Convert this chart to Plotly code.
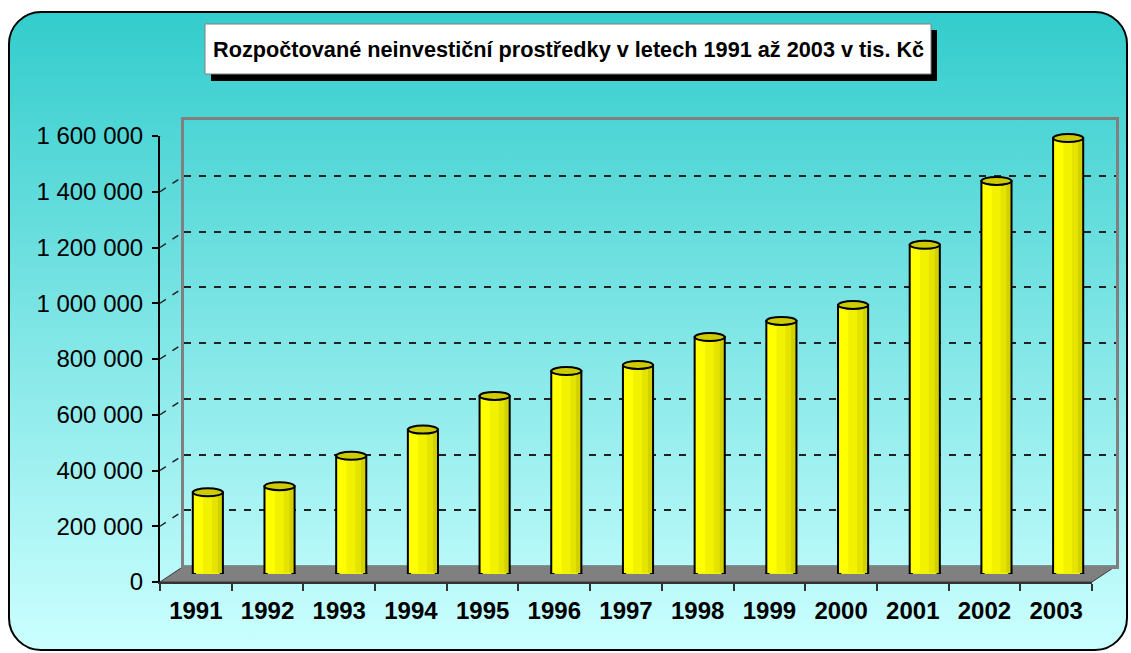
import base64
import plotly.graph_objects as go

# ---------------- data ----------------
years = ["1991", "1992", "1993", "1994", "1995", "1996", "1997",
         "1998", "1999", "2000", "2001", "2002", "2003"]
values = [293000, 315000, 424000, 518000, 639000, 728000, 750000,
          850000, 908000, 965000, 1181000, 1410000, 1564000]
ytick_vals = [0, 200000, 400000, 600000, 800000, 1000000, 1200000, 1400000, 1600000]
ytick_text = ["0", "200 000", "400 000", "600 000", "800 000", "1 000 000",
              "1 200 000", "1 400 000", "1 600 000"]
grid_vals = [200000, 400000, 600000, 800000, 1000000, 1200000, 1400000]
title_text = "Rozpočtované neinvestiční prostředky v letech 1991 až 2003 v tis. Kč"

# ---------------- geometry / style ----------------
W, H = 1131, 653
FX0, FX1 = 160, 1092      # front x-axis pixel extent
FY0, FY1 = 582, 136       # front y-axis pixel extent (bottom, top)
DX, DY = 24, 16           # depth offset of back wall
YMAX = 1600000
FONT = "Liberation Sans, Arial, sans-serif"
BAR_W = 0.42


def px(x):
    return x / W


def py(y):
    return 1 - y / H


val_per_px = YMAX / (FY0 - FY1)

# background rounded panel with vertical gradient
svg = f'''<svg xmlns="http://www.w3.org/2000/svg" width="{W}" height="{H}" viewBox="0 0 {W} {H}" preserveAspectRatio="none">
<defs><linearGradient id="g" x1="0" y1="0" x2="0" y2="1">
<stop offset="0" stop-color="#33CCCC"/><stop offset="1" stop-color="#CCFFFF"/></linearGradient></defs>
<rect x="9" y="12" width="1118" height="638" rx="32" ry="32" fill="url(#g)" stroke="#000" stroke-width="2"/>
</svg>'''
svg_uri = "data:image/svg+xml;base64," + base64.b64encode(svg.encode()).decode()

fig = go.Figure()

# back wall subplot (x, y): invisible anchor trace
fig.add_trace(go.Scatter(x=list(range(len(years))), y=values, xaxis="x", yaxis="y",
                         mode="markers", marker=dict(opacity=0), hoverinfo="skip",
                         showlegend=False))
# front axes subplot (x2, y2)
fig.add_trace(go.Scatter(x=years, y=values, xaxis="x2", yaxis="y2",
                         mode="markers", marker=dict(opacity=0), hoverinfo="skip",
                         showlegend=False))

# cylinder bodies (x3, y3): base fill + shading stripes + outline
stripes = [(0.0, 1.0, "#FFFF00"), (0.34, 0.63, "#F2F200"),
           (0.63, 0.82, "#E4E400"), (0.82, 1.0, "#D2D200")]
for a, b, col in stripes:
    fig.add_trace(go.Bar(x=years, y=values, xaxis="x3", yaxis="y3",
                         width=BAR_W * (b - a), offset=-BAR_W / 2 + BAR_W * a,
                         marker=dict(color=col, line=dict(width=0)),
                         hoverinfo="skip", showlegend=False))
fig.add_trace(go.Bar(x=years, y=values, xaxis="x3", yaxis="y3",
                     width=BAR_W, offset=-BAR_W / 2,
                     marker=dict(color="rgba(0,0,0,0)", line=dict(color="black", width=2)),
                     hoverinfo="skip", showlegend=False))

shapes = []
# floor
floor = (f"M {px(FX0)} {py(FY0)} L {px(FX1)} {py(FY0)} "
         f"L {px(FX1 + DX)} {py(FY0 - DY)} L {px(FX0 + DX)} {py(FY0 - DY)} Z")
shapes.append(dict(type="path", path=floor, xref="paper", yref="paper",
                   fillcolor="#808080", line=dict(color="#3a3a3a", width=1), layer="below"))

# left wall: top edge and dashed grid diagonals
shapes.append(dict(type="line", xref="paper", yref="y2",
                   x0=px(FX0), x1=px(FX0 + DX), y0=YMAX, y1=YMAX + DY * val_per_px,
                   line=dict(color="#808080", width=2), layer="below"))
for v in grid_vals:
    shapes.append(dict(type="line", xref="paper", yref="y2",
                       x0=px(FX0), x1=px(FX0 + DX), y0=v, y1=v + DY * val_per_px,
                       line=dict(color="#222222", width=1.5, dash="7px,8px"), layer="below"))

ry_top = 4.0 * val_per_px
ry_bot = 4.5 * val_per_px
inset = 3.2 / ((FX1 - FX0) / len(years))
for i, v in enumerate(values):
    # bottom rim (under the body)
    shapes.append(dict(type="circle", xref="x3", yref="y3",
                       x0=i - BAR_W / 2, x1=i + BAR_W / 2, y0=-ry_bot, y1=ry_bot,
                       fillcolor="#F2F200", line=dict(color="black", width=2), layer="below"))
    # hide straight bottom edge of the outline
    shapes.append(dict(type="rect", xref="x3", yref="y3",
                       x0=i - BAR_W / 2 + inset, x1=i + BAR_W / 2 - inset,
                       y0=-1.5 * val_per_px, y1=1.2 * val_per_px,
                       fillcolor="#F2F200", line=dict(width=0), layer="above"))
    # top cap
    shapes.append(dict(type="circle", xref="x3", yref="y3",
                       x0=i - BAR_W / 2, x1=i + BAR_W / 2, y0=v - ry_top, y1=v + ry_top,
                       fillcolor="#CCCC00", line=dict(color="black", width=2), layer="above"))

# title box with shadow
shapes.append(dict(type="rect", xref="paper", yref="paper",
                   x0=px(211), x1=px(937), y0=py(81), y1=py(30),
                   fillcolor="black", line=dict(width=0), layer="above"))
shapes.append(dict(type="rect", xref="paper", yref="paper",
                   x0=px(205), x1=px(931), y0=py(74), y1=py(24),
                   fillcolor="white", line=dict(color="#808080", width=1), layer="above"))

fig.update_layout(
    template="none",
    width=W, height=H, autosize=False,
    margin=dict(l=0, r=0, t=0, b=0, pad=0, autoexpand=False),
    paper_bgcolor="white", plot_bgcolor="rgba(0,0,0,0)",
    barmode="overlay", hovermode=False, showlegend=False,
    font=dict(family=FONT, color="black"),
    images=[dict(source=svg_uri, xref="paper", yref="paper", x=0, y=1,
                 sizex=1, sizey=1, xanchor="left", yanchor="top",
                 sizing="stretch", layer="below")],
    shapes=shapes,
    annotations=[dict(text=title_text, xref="paper", yref="paper",
                      x=px(568), y=py(49), xanchor="center", yanchor="middle",
                      showarrow=False,
                      font=dict(family=FONT, size=21.7, color="black", weight="bold"))],
    # back wall
    xaxis=dict(domain=[px(FX0 + DX), px(FX1 + DX)], anchor="y", range=[-0.5, 12.5],
               automargin=False,
               showgrid=False, zeroline=False, showticklabels=False, ticks="",
               showline=True, mirror=True, linecolor="#808080", linewidth=3),
    yaxis=dict(domain=[py(FY0 - DY), py(FY1 - DY)], anchor="x", range=[0, YMAX],
               automargin=False,
               tickmode="array", tickvals=grid_vals, showticklabels=False, ticks="",
               showgrid=True, gridcolor="#222222", gridwidth=1.5, griddash="7px,8px",
               zeroline=False, showline=True, mirror=True, linecolor="#808080", linewidth=3),
    # front axes
    xaxis2=dict(domain=[px(FX0), px(FX1)], anchor="y2", type="category",
                automargin=False,
                range=[-0.5, 12.5], showgrid=False, zeroline=False,
                showline=True, linecolor="#333333", linewidth=1.5,
                ticks="outside", tickson="boundaries", ticklen=7, tickcolor="#333333",
                tickwidth=1.5, ticklabelstandoff=6,
                tickfont=dict(family=FONT, size=24, color="black", weight="bold")),
    yaxis2=dict(domain=[py(FY0), py(FY1)], anchor="x2", range=[0, YMAX],
                automargin=False,
                tickmode="array", tickvals=ytick_vals, ticktext=ytick_text,
                showgrid=False, zeroline=False, showline=True, linecolor="black",
                linewidth=2, ticks="outside", ticklen=6, tickcolor="black",
                tickwidth=1.5, ticklabelstandoff=4,
                tickfont=dict(family=FONT, size=24, color="black")),
    # bars (mid depth)
    xaxis3=dict(domain=[px(FX0 + DX / 2), px(FX1 + DX / 2)], anchor="y3",
                automargin=False,
                type="category", range=[-0.5, 12.5], visible=False),
    yaxis3=dict(domain=[py(FY0 - DY / 2), py(FY1 - DY / 2)], anchor="x3",
                automargin=False,
                range=[0, YMAX], visible=False),
)

fig.write_html(
    "out.html",
    config={"displayModeBar": False},
    post_script="document.body.style.margin='0';document.body.style.overflow='hidden';",
)
